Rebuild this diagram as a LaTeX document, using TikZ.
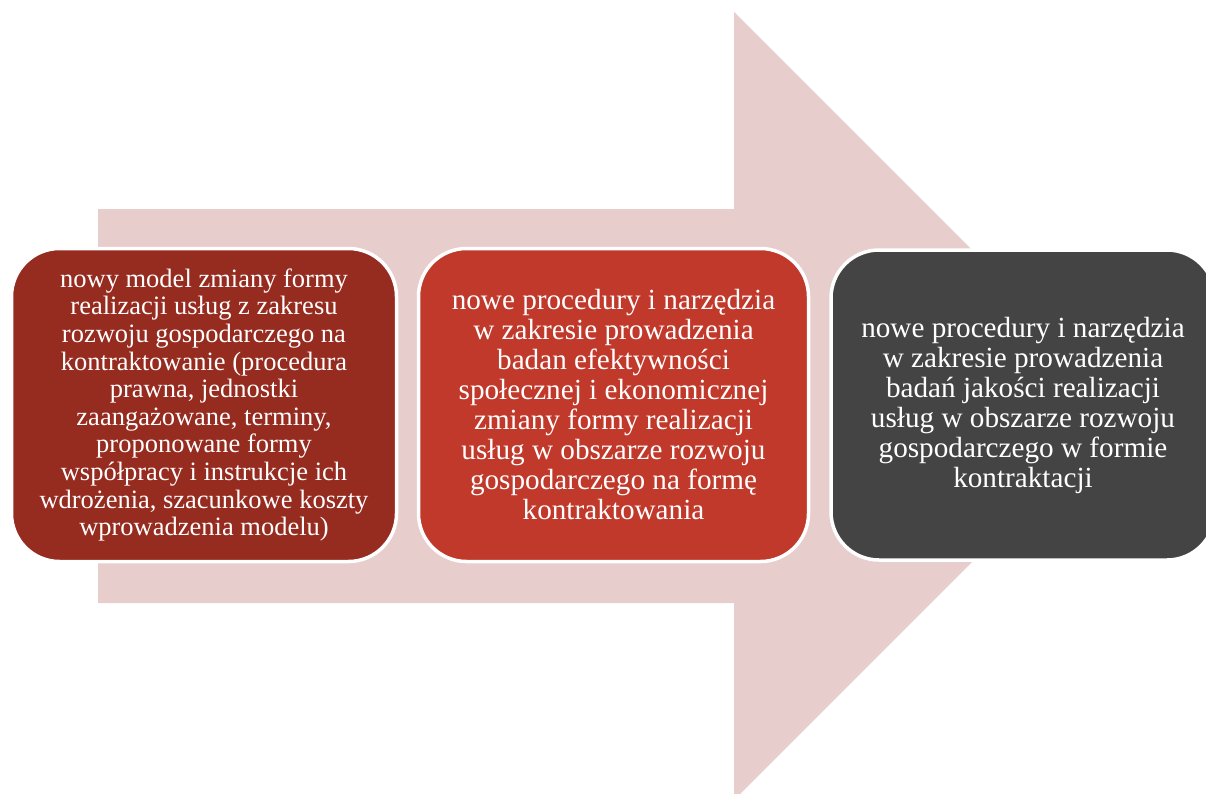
\documentclass[tikz,border=0pt]{standalone}
\usepackage{fontspec}
\setmainfont{Liberation Serif}
\definecolor{arrowpink}{HTML}{E8CDCD}
\definecolor{boxdark}{HTML}{962B20}
\definecolor{boxred}{HTML}{C0392B}
\definecolor{boxgray}{HTML}{444444}
\tikzset{
  card/.style={draw=white, line width=3.5pt, rounded corners=48pt, inner sep=0pt,
    align=center, text=white},
  smalltext/.style={font=\fontsize{26.5}{27.6}\selectfont},
  bigtext/.style={font=\fontsize{29.2}{30}\selectfont}
}
\begin{document}
\begin{tikzpicture}[x=1pt,y=-1pt]
\useasboundingbox (0,0) rectangle (1206,793);
\begin{scope}
\clip (0,0) rectangle (1206,793);
% big arrow
\fill[arrowpink] (98,209) -- (734,209) -- (734,12) -- (1128,406) -- (734,800) -- (734,603) -- (98,603) -- cycle;
% boxes
\node[card, smalltext, fill=boxdark, minimum width=385pt, minimum height=313pt] (b1) at (204,405)
  {nowy model zmiany formy\\realizacji usług z zakresu\\rozwoju gospodarczego na\\kontraktowanie (procedura\\prawna, jednostki\\zaangażowane, terminy,\\proponowane formy\\współpracy i instrukcje ich\\wdrożenia, szacunkowe koszty\\wprowadzenia modelu)};
\node[card, bigtext, fill=boxred, minimum width=390pt, minimum height=313pt] (b2) at (613.5,405)
  {nowe procedury i narzędzia\\w zakresie prowadzenia\\badan efektywności\\społecznej i ekonomicznej\\zmiany formy realizacji\\usług w obszarze rozwoju\\gospodarczego na formę\\kontraktowania};
\node[card, bigtext, fill=boxgray, minimum width=384pt, minimum height=310pt] (b3) at (1023,405)
  {nowe procedury i narzędzia\\w zakresie prowadzenia\\badań jakości realizacji\\usług w obszarze rozwoju\\gospodarczego w formie\\kontraktacji};
\end{scope}
\end{tikzpicture}
\end{document}
